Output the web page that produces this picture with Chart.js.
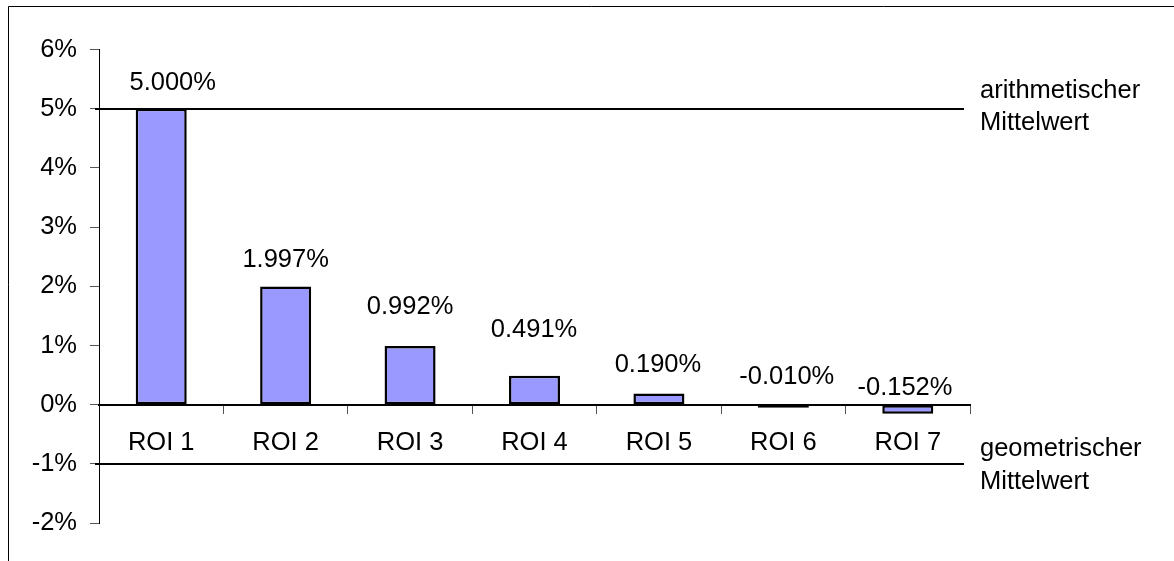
<!DOCTYPE html>
<html>
<head>
<meta charset="utf-8">
<script src="https://cdn.jsdelivr.net/npm/chart.js@4.4.0/dist/chart.umd.min.js"></script>
<style>
  html, body { margin: 0; padding: 0; background: #fff; }
  #wrap { position: relative; width: 1174px; height: 561px; }
</style>
</head>
<body>
<div id="wrap"><canvas id="c" width="1174" height="561"></canvas></div>
<script>
// ---- data ----
const categories = ["ROI 1", "ROI 2", "ROI 3", "ROI 4", "ROI 5", "ROI 6", "ROI 7"];
const roiValues = [5.000, 1.997, 0.992, 0.491, 0.190, -0.010, -0.152];
const yTickMin = -2;
const yTickMax = 6;
const yTickStep = 1;
const meanValues = [5, -1];
const meanLabels = [["arithmetischer", "Mittelwert"], ["geometrischer", "Mittelwert"]];

// ---- styling / placement (not data) ----
const FONT_SIZE = 25.5;
const FONT_FAMILY = '"Liberation Sans", Arial, sans-serif';
const FONT = FONT_SIZE + 'px ' + FONT_FAMILY;
const labelOffsets = [ // [dx, dy above bar end (or zero line for negatives)]
  [11.5, 25.5], [0, 27], [0, 39], [-0.5, 45.5], [-1, 28], [3.4, 27.5], [-2.8, 17]
];
const meanTextBaselines = [[-11, 20.5], [-8.5, 25]];

const framePlugin = {
  id: 'frame',
  beforeDraw(chart) {
    const ctx = chart.ctx;
    ctx.save();
    ctx.fillStyle = '#fff';
    ctx.fillRect(0, 0, chart.width, chart.height);
    ctx.strokeStyle = '#000';
    ctx.lineWidth = 1;
    ctx.beginPath();
    ctx.moveTo(8.5, chart.height + 2);
    ctx.lineTo(8.5, 6.5);
    ctx.lineTo(chart.width + 2, 6.5);
    ctx.stroke();
    ctx.restore();
  }
};

const meanLinesPlugin = {
  id: 'meanLines',
  afterDatasetsDraw(chart) {
    const ctx = chart.ctx;
    const y = chart.scales.y;
    ctx.save();
    ctx.strokeStyle = '#000';
    ctx.lineWidth = 2;
    ctx.fillStyle = '#000';
    ctx.font = FONT;
    ctx.textAlign = 'left';
    ctx.textBaseline = 'alphabetic';
    meanValues.forEach((v, i) => {
      const py = Math.round(y.getPixelForValue(v));
      ctx.beginPath();
      ctx.moveTo(95, py);
      ctx.lineTo(964, py);
      ctx.stroke();
      meanLabels[i].forEach((t, j) => {
        ctx.fillText(t, 980, py + meanTextBaselines[i][j]);
      });
    });
    ctx.restore();
  }
};

const valueLabelPlugin = {
  id: 'valueLabels',
  afterDatasetsDraw(chart) {
    const ctx = chart.ctx;
    const meta = chart.getDatasetMeta(0);
    const zero = chart.scales.y.getPixelForValue(0);
    ctx.save();
    ctx.font = FONT;
    ctx.fillStyle = '#000';
    ctx.textAlign = 'center';
    ctx.textBaseline = 'middle';
    meta.data.forEach((bar, i) => {
      const v = roiValues[i];
      const ref = v >= 0 ? bar.y : zero;
      const [dx, dy] = labelOffsets[i];
      ctx.fillText(v.toFixed(3) + '%', bar.x + dx, ref - dy);
    });
    ctx.restore();
  }
};

new Chart(document.getElementById('c'), {
  type: 'bar',
  data: {
    labels: categories,
    datasets: [{
      data: roiValues,
      backgroundColor: '#9999FF',
      borderColor: '#000',
      borderWidth: 2.5,
      borderSkipped: false,
      minBarLength: 3,
      barPercentage: 0.41,
      categoryPercentage: 1.0
    }]
  },
  options: {
    responsive: false,
    animation: false,
    devicePixelRatio: 1,
    layout: { padding: { left: 0, top: 49.5, right: 204, bottom: 37.9 } },
    plugins: { legend: { display: false }, tooltip: { enabled: false }, title: { display: false } },
    scales: {
      x: {
        axis: 'x',
        position: { y: 0 },
        grid: { display: true, drawOnChartArea: false, drawTicks: true, tickLength: 8, color: '#555', offset: true },
        border: { display: true, color: '#000', width: 2 },
        ticks: { color: '#000', font: { family: FONT_FAMILY, size: FONT_SIZE }, padding: 15, autoSkip: false, maxRotation: 0 }
      },
      y: {
        position: 'left',
        min: yTickMin,
        max: yTickMax,
        afterFit(scale) { scale.width = 99; },
        grid: { display: true, drawOnChartArea: false, drawTicks: true, tickLength: 9, color: '#555' },
        border: { display: true, color: '#000', width: 1 },
        ticks: {
          stepSize: yTickStep,
          color: '#000',
          font: { family: FONT_FAMILY, size: FONT_SIZE },
          padding: 13,
          callback: (v) => v + '%'
        }
      }
    }
  },
  plugins: [framePlugin, meanLinesPlugin, valueLabelPlugin]
});
</script>
</body>
</html>
